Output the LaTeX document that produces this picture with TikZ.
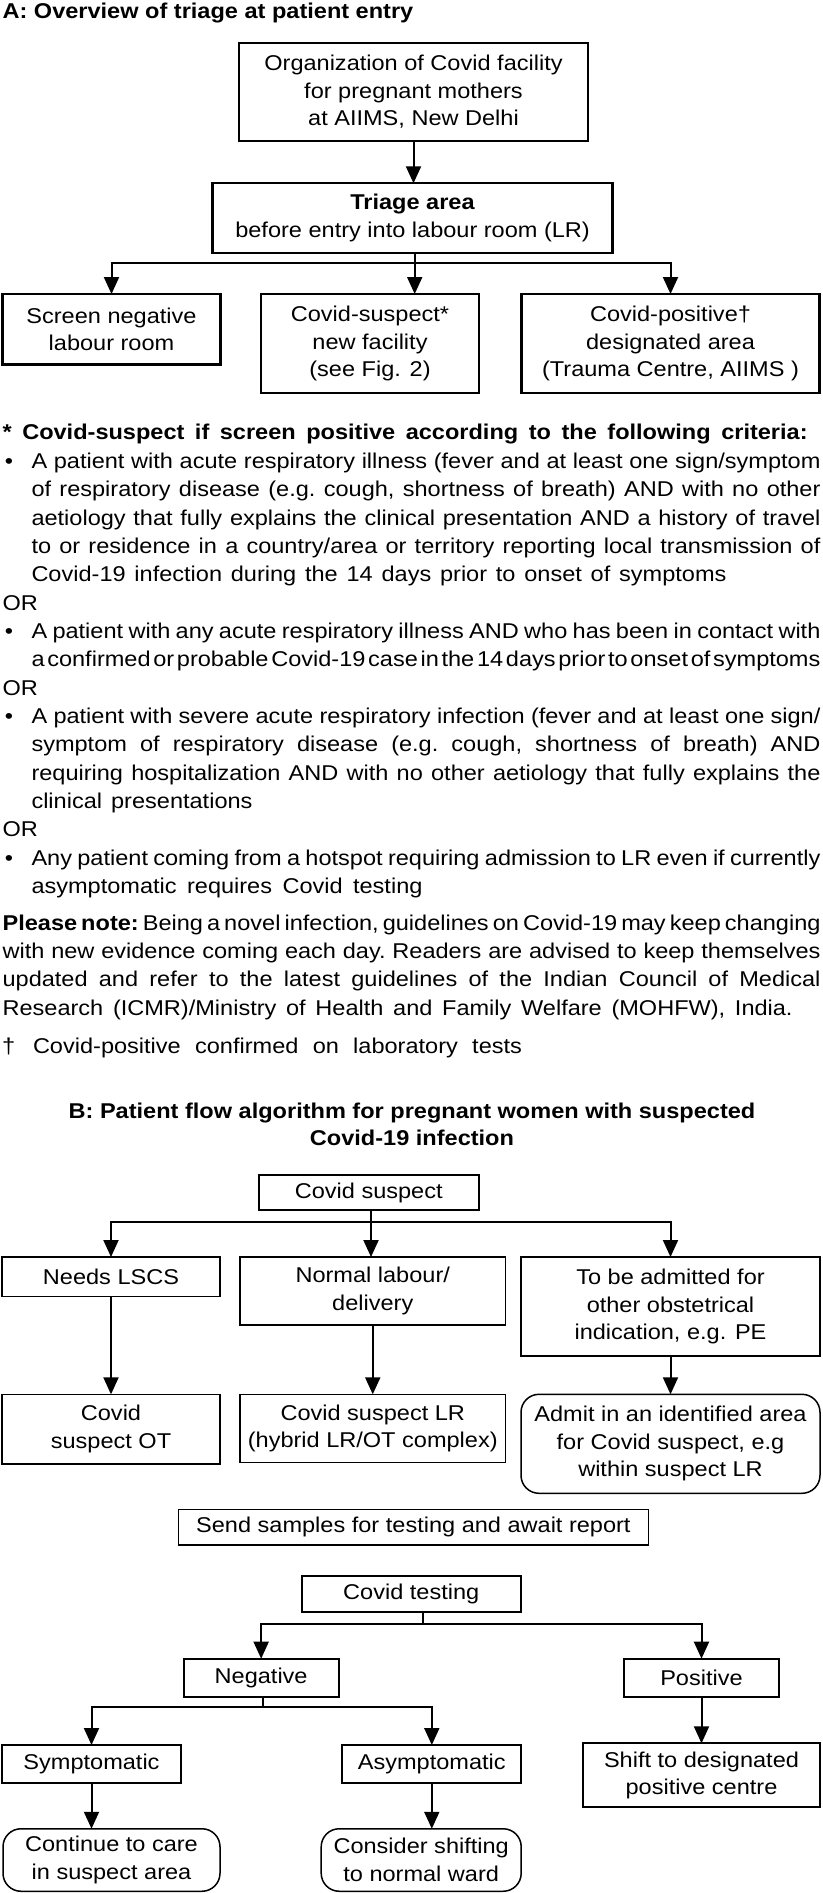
\documentclass[tikz,border=0pt]{standalone}
\usepackage{fontspec}
\setmainfont{Liberation Sans}[FakeStretch=1.10]
\usetikzlibrary{arrows.meta}
\newcommand\bodyfont{\fontsize{21.4}{28.33}\selectfont}
\newcommand\boxfont{\fontsize{21.4}{27.6}\selectfont}
\newcommand\jline[2]{\hbox to #1{\frenchspacing\spaceskip=\fontdimen2\font plus 1fil minus 0.9\fontdimen2\font\relax #2}}
\begin{document}
\begin{tikzpicture}[x=1pt, y=-1pt,
  every node/.style={inner sep=0pt, outer sep=0pt},
  tx/.style={anchor=base west, font=\bodyfont},
  tc/.style={anchor=base, font=\bodyfont},
  box/.style={draw, line width=2.3pt, align=center, font=\boxfont},
  tbox/.style={draw, line width=1.5pt, align=center, font=\boxfont},
  rbox/.style={tbox, rounded corners=18pt},
  conn/.style={line width=2pt},
  arr/.style={conn, -{Triangle[length=17pt,width=15pt]}}
]
\useasboundingbox (0,0) rectangle (822,1893);

% ---------------- Part A ----------------
\node[tx] (titleA) at (2.6,18) {\bfseries A: Overview of triage at patient entry};

\node[box, minimum width=349pt, minimum height=98pt] (org) at (413.5,91.7)
  {Organization of Covid facility\\for pregnant mothers\\at AIIMS, New Delhi};
\node[box, minimum width=400pt, minimum height=69.4pt] (triage) at (412.6,218)
  {\textbf{Triage area}\\before entry into labour room (LR)};
\node[box, minimum width=218pt, minimum height=70.3pt] (scrneg) at (111.5,329.2)
  {Screen negative\\labour room};
\node[box, minimum width=218pt, minimum height=99pt] (susp) at (370,343.5)
  {Covid-suspect*\\new facility\\(see Fig. 2)};
\node[box, minimum width=298pt, minimum height=99pt] (pos) at (670.5,343.5)
  {Covid-positive†\\designated area\\(Trauma Centre, AIIMS )};

\draw[arr] (org.south) -- (org.south |- triage.north);
\coordinate (tA) at (414.7,262.7);
\draw[conn] (triage.south -| tA) -- (tA);
\draw[arr] (tA) -| (scrneg.north);
\draw[arr] (tA) -- (tA |- susp.north);
\draw[arr] (tA) -| (pos.north);

% criteria text
\node[tx] (hdr) at (2.6,439.3) {\jline{805pt}{\bfseries * Covid-suspect if screen positive according to the following criteria:}};

\node[tx] (b1) at (5,468.3) {•};
\node[tx] (l1) at (31.5,468.3) {\jline{789pt}{A patient with acute respiratory illness (fever and at least one sign/symptom}};
\node[tx] (l2) at (31.5,496.6) {\jline{789pt}{of respiratory disease (e.g. cough, shortness of breath) AND with no other}};
\node[tx] (l3) at (31.5,525.0) {\jline{789pt}{aetiology that fully explains the clinical presentation AND a history of travel}};
\node[tx] (l4) at (31.5,553.3) {\jline{789pt}{to or residence in a country/area or territory reporting local transmission of}};
\node[tx] (l5) at (31.5,581.6) {\jline{695pt}{Covid-19 infection during the 14 days prior to onset of symptoms}};
\node[tx] (or1) at (2.6,610.0) {OR};
\node[tx] (b2) at (5,638.3) {•};
\node[tx] (l6) at (31.5,638.3) {\jline{789pt}{A patient with any acute respiratory illness AND who has been in contact with}};
\node[tx] (l7) at (31.5,666.6) {\jline{789pt}{a confirmed or probable Covid-19 case in the 14 days prior to onset of symptoms}};
\node[tx] (or2) at (2.6,695.0) {OR};
\node[tx] (b3) at (5,723.3) {•};
\node[tx] (l8) at (31.5,723.3) {\jline{789pt}{A patient with severe acute respiratory infection (fever and at least one sign/}};
\node[tx] (l9) at (31.5,751.6) {\jline{789pt}{symptom of respiratory disease (e.g. cough, shortness of breath) AND}};
\node[tx] (l10) at (31.5,780.0) {\jline{789pt}{requiring hospitalization AND with no other aetiology that fully explains the}};
\node[tx] (l11) at (31.5,808.3) {\jline{221pt}{clinical presentations}};
\node[tx] (or3) at (2.6,836.6) {OR};
\node[tx] (b4) at (5,865.0) {•};
\node[tx] (l12) at (31.5,865.0) {\jline{789pt}{Any patient coming from a hotspot requiring admission to LR even if currently}};
\node[tx] (l13) at (31.5,893.3) {\jline{391pt}{asymptomatic requires Covid testing}};

\node[tx] (p1) at (2.6,930.0) {\jline{818pt}{\textbf{Please note:} Being a novel infection, guidelines on Covid-19 may keep changing}};
\node[tx] (p2) at (2.6,958.3) {\jline{818pt}{with new evidence coming each day. Readers are advised to keep themselves}};
\node[tx] (p3) at (2.6,986.7) {\jline{818pt}{updated and refer to the latest guidelines of the Indian Council of Medical}};
\node[tx] (p4) at (2.6,1015.0) {\jline{790pt}{Research (ICMR)/Ministry of Health and Family Welfare (MOHFW), India.}};

\node[tx] (dag) at (2,1053.3) {†};
\node[tx] (dagt) at (33,1053.3) {\jline{489pt}{Covid-positive confirmed on laboratory tests}};

% ---------------- Part B ----------------
\node[tc] (titleB1) at (412,1118.3) {\bfseries B: Patient flow algorithm for pregnant women with suspected};
\node[tc] (titleB2) at (412,1145.5) {\bfseries Covid-19 infection};

\node[box, minimum width=220pt, minimum height=35pt] (csusp) at (368.75,1192.5) {Covid suspect};
\node[tbox, minimum width=218pt, minimum height=39.7pt] (lscs) at (111,1276.85) {Needs LSCS};
\node[tbox, minimum width=265.5pt, minimum height=68pt] (normal) at (372.75,1291) {Normal labour/\\delivery};
\node[tbox, minimum width=299pt, minimum height=99pt] (adm1) at (670.5,1306.5) {To be admitted for\\other obstetrical\\indication, e.g. PE};

\coordinate (tB) at (371,1221.7);
\draw[conn] (csusp.south -| tB) -- (tB);
\draw[arr] (tB) -| (lscs.north);
\draw[arr] (tB) -- (tB |- normal.north);
\draw[arr] (tB) -| (adm1.north);

\node[tbox, minimum width=218pt, minimum height=69.7pt] (ot) at (111,1429.2) {Covid\\suspect OT};
\node[tbox, minimum width=265.5pt, minimum height=68.4pt] (lr) at (372.75,1428.5) {Covid suspect LR\\(hybrid LR/OT complex)};
\node[rbox, minimum width=299pt, minimum height=99pt] (adm2) at (670.5,1443.8) {Admit in an identified area\\for Covid suspect, e.g\\within suspect LR};

\draw[arr] (lscs.south) -- (lscs.south |- ot.north);
\draw[arr] (normal.south) -- (normal.south |- lr.north);
\draw[arr] (adm1.south) -- (adm1.south |- adm2.north);

\node[tbox, minimum width=469.8pt, minimum height=35.7pt] (send) at (413.4,1527.2) {Send samples for testing and await report};

\node[box, minimum width=219pt, minimum height=35.7pt] (test) at (411.25,1593.85) {Covid testing};
\node[box, minimum width=155pt, minimum height=38pt] (neg) at (261.15,1677.7) {Negative};
\node[box, minimum width=155pt, minimum height=38pt] (posb) at (701.5,1677.7) {Positive};

\coordinate (tC) at (422.6,1624);
\draw[conn] (test.south -| tC) -- (tC);
\draw[arr] (tC) -| (neg.north);
\draw[arr] (tC) -| (posb.north);

\node[box, minimum width=179pt, minimum height=38.3pt] (sym) at (91.5,1764.15) {Symptomatic};
\node[box, minimum width=179pt, minimum height=38.3pt] (asym) at (431.8,1764.15) {Asymptomatic};
\node[box, minimum width=237pt, minimum height=64pt] (shift) at (701.5,1775.3) {Shift to designated\\positive centre};

\coordinate (tD) at (262.5,1706.7);
\draw[conn] (neg.south -| tD) -- (tD);
\draw[arr] (tD) -| (sym.north);
\draw[arr] (tD) -| (asym.north);
\draw[arr] (posb.south) -- (posb.south |- shift.north);

\node[rbox, minimum width=217pt, minimum height=62.5pt] (cont) at (111.5,1860) {Continue to care\\in suspect area};
\node[rbox, minimum width=200pt, minimum height=62.5pt] (cons) at (421.2,1860) {Consider shifting\\to normal ward};

\draw[arr] (sym.south) -- (sym.south |- cont.north);
\draw[arr] (asym.south) -- (asym.south |- cons.north);
\end{tikzpicture}
\end{document}
